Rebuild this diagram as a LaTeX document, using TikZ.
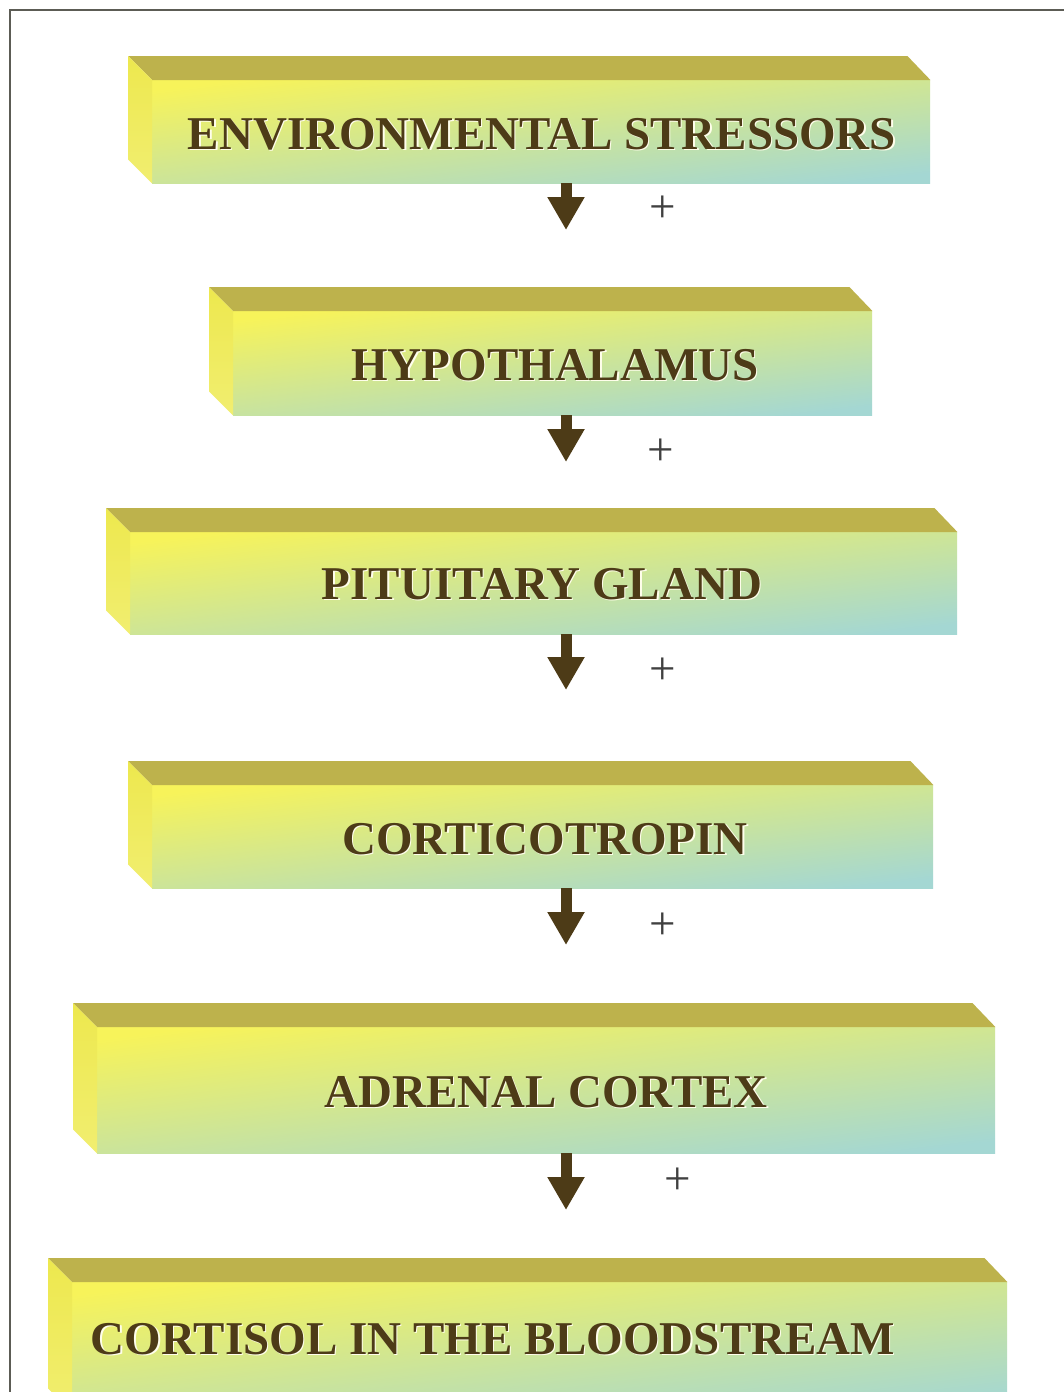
\documentclass[tikz,border=0pt]{standalone}
\usepackage{fontspec}
\setmainfont{Liberation Serif}
\usetikzlibrary{arrows.meta}
\definecolor{topface}{HTML}{BDB24C}
\definecolor{sideA}{HTML}{EDE84E}
\definecolor{sideB}{HTML}{F1EE70}
\definecolor{frontA}{HTML}{F7F35A}
\definecolor{frontM}{HTML}{D6EB9A}
\definecolor{frontB}{HTML}{A4D7D3}
\definecolor{ink}{HTML}{4D3B17}
\definecolor{plusc}{HTML}{404040}
\definecolor{framec}{HTML}{5C5C55}
\newcommand\embossed[1]{\rlap{\hspace{1.2pt}\raisebox{-1.2pt}{\color{white!92!yellow}#1}}#1}
\begin{document}
\begin{tikzpicture}[x=1pt,y=-1pt,
  face/.style={shade, shading=axis, top color=frontA, middle color=frontM, bottom color=frontB,
    shading angle=7, draw=none, inner sep=0pt, anchor=north west},
  lbl/.style={text=ink, font=\fontsize{47}{50}\selectfont\bfseries, inner sep=0pt},
  plus/.style={text=plusc, font=\fontsize{47}{48}\selectfont, inner sep=0pt},
  arr/.style={draw=ink, line width=11pt, -{Triangle[length=33pt,width=35pt]}},
  topf/.style={fill=topface},
  sidef/.style={shade, top color=sideA, bottom color=sideB}
]
\useasboundingbox (0,0) rectangle (1064,1392);
\clip (0,0) rectangle (1064,1392);
\fill[white] (0,0) rectangle (1064,1392);
% frame
\draw[framec, line width=2pt] (10,1400) -- (10,10) -- (1070,10);

% boxes: front faces
\node[face, minimum width=778pt, minimum height=103pt] (b1) at (152,80) {};
\node[face, minimum width=639pt, minimum height=104pt] (b2) at (233,311) {};
\node[face, minimum width=827pt, minimum height=102pt] (b3) at (130,532) {};
\node[face, minimum width=781pt, minimum height=103pt] (b4) at (152,785) {};
\node[face, minimum width=898pt, minimum height=126pt] (b5) at (97,1027) {};
\node[face, minimum width=935pt, minimum height=130pt] (b6) at (72,1282) {};

% 3D top and side faces
\foreach \b in {b1,b2,b3,b4,b5,b6}{
  \path[topf] (\b.north west) -- ([shift={(-24,-24)}]\b.north west)
     -- ([shift={(-23,-24)}]\b.north east) -- (\b.north east) -- cycle;
  \path[sidef] (\b.north west) -- ([shift={(-24,-24)}]\b.north west)
     -- ([shift={(-24,-24)}]\b.south west) -- (\b.south west) -- cycle;
}

% labels
\node[lbl] (l1) at (542,135) {\embossed{ENVIRONMENTAL STRESSORS}};
\node[lbl] (l2) at (555,366) {\embossed{HYPOTHALAMUS}};
\node[lbl] (l3) at (542,585) {\embossed{PITUITARY GLAND}};
\node[lbl] (l4) at (545,840) {\embossed{CORTICOTROPIN}};
\node[lbl] (l5) at (546,1093) {\embossed{ADRENAL CORTEX}};
\node[lbl] (l6) at (493,1340) {\embossed{CORTISOL IN THE BLOODSTREAM}};

% arrows
\coordinate (a1) at (566,230);
\coordinate (a2) at (566,462);
\coordinate (a3) at (566,690);
\coordinate (a4) at (566,945);
\coordinate (a5) at (566,1210);
\draw[arr] (b1.south -| a1) -- (a1);
\draw[arr] (b2.south -| a2) -- (a2);
\draw[arr] (b3.south -| a3) -- (a3);
\draw[arr] (b4.south -| a4) -- (a4);
\draw[arr] (b5.south -| a5) -- (a5);

% plus signs
\node[plus] (p1) at (663,209) {+};
\node[plus] (p2) at (661,452) {+};
\node[plus] (p3) at (663,671) {+};
\node[plus] (p4) at (663,926) {+};
\node[plus] (p5) at (678,1181) {+};
\end{tikzpicture}
\end{document}
